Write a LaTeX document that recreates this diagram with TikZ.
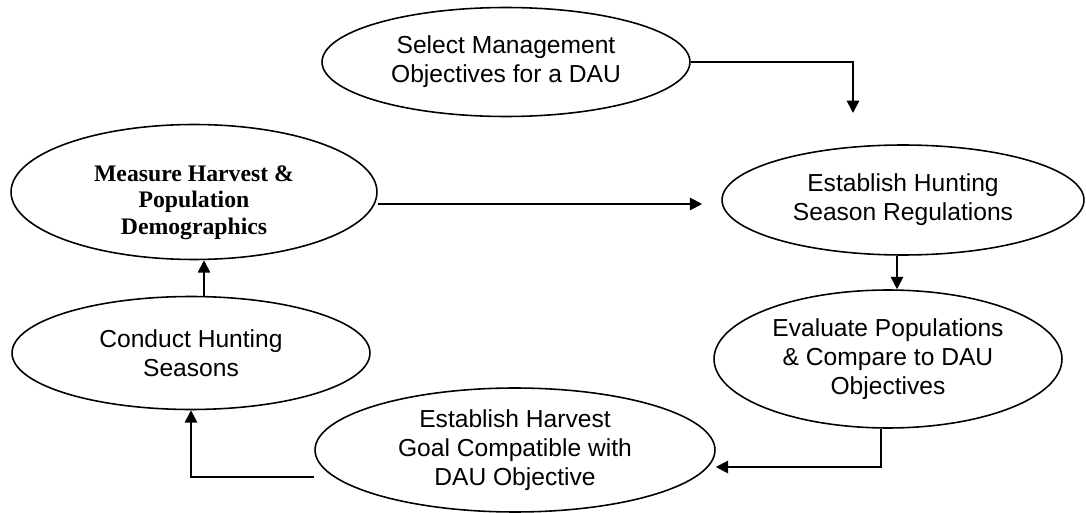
\documentclass[tikz,border=0pt]{standalone}
\usepackage{fontspec}
\setmainfont{Liberation Sans}
\newfontfamily\serifbold{Liberation Serif}
\usetikzlibrary{
    shapes.geometric,
    arrows.meta,
    positioning,
    calc,
}

\begin{document}
\begin{tikzpicture}[x=0.02cm, y=-0.02cm,
        stage/.style={draw, ellipse, line width=0.9pt, inner sep=0pt, align=center,
            font=\fontsize{14}{16.5}\selectfont},
        flow/.style={-{Triangle[length=7pt, width=7pt]}, line width=1.1pt},
    ]
        \useasboundingbox (0,0) rectangle (1086,513);
        % the six steps of the cycle
        \node[stage, minimum width=7.36cm, minimum height=2.18cm] (select) at (506,62) {Select Management\\Objectives for a DAU};
        \node[stage, minimum width=7.24cm, minimum height=2.2cm] (regs) at (903,200) {Establish Hunting\\Season Regulations};
        \node[stage, minimum width=6.96cm, minimum height=2.76cm] (evaluate) at (888,359) {Evaluate Populations\\\& Compare to DAU\\Objectives};
        \node[stage, minimum width=8cm, minimum height=2.48cm] (goal) at (515,450) {Establish Harvest\\Goal Compatible with\\DAU Objective};
        \node[stage, minimum width=7.16cm, minimum height=2.26cm] (conduct) at (191,353) {Conduct Hunting\\Seasons};
        \node[stage, minimum width=7.32cm, minimum height=2.7cm,
            font=\fontsize{13.5}{15}\selectfont\serifbold\bfseries] (measure) at (194,192) {\rule{0pt}{21pt}Measure Harvest \&\\Population\\Demographics};
        \coordinate (selectend) at (853,113);

        % connectors
        \draw[flow] (select.east) -| (selectend);
        \draw[flow, shorten >=0.38cm] ([yshift=-0.08cm]measure.east |- regs.west) -- ([yshift=-0.08cm]regs.west);
        \draw[flow] ([xshift=-0.12cm]regs.south) -- ([xshift=-0.12cm]regs.south |- evaluate.north);
        \draw[flow] ([xshift=-0.14cm]evaluate.south) |- ([yshift=-0.34cm]goal.east);
        \draw[flow] ([yshift=-0.54cm]goal.west) -| (conduct.south);
        \draw[flow] ([xshift=0.26cm]conduct.north) -- ([xshift=0.26cm]conduct.north |- measure.south);
    \end{tikzpicture}
\end{document}
